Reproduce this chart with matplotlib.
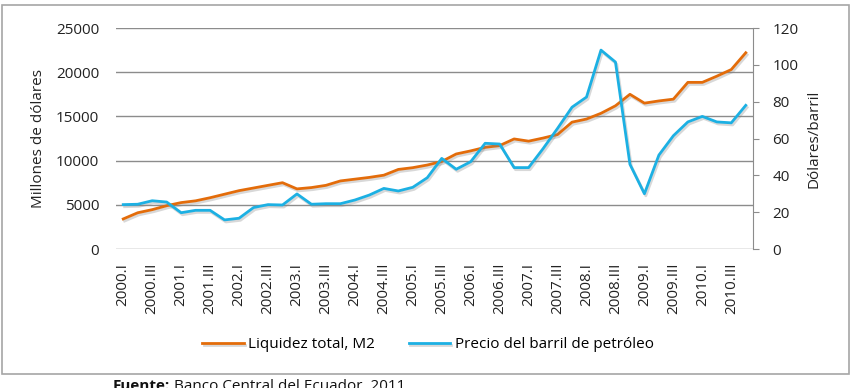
import matplotlib
matplotlib.use("Agg")
import matplotlib.pyplot as plt
import matplotlib.patheffects as pe
from matplotlib.patches import Rectangle
import numpy as np

plt.rcParams['font.family'] = ['Open Sans', 'DejaVu Sans']

# Trimestres 2000.I - 2010.IV
romanos = ['I', 'II', 'III', 'IV']
trimestres = [f'{a}.{r}' for a in range(2000, 2011) for r in romanos]

# Liquidez total M2 (millones de dólares)
m2 = [3400, 4100, 4450, 4900, 5250, 5450, 5800, 6200, 6600, 6900, 7200, 7500,
      6800, 6950, 7200, 7700, 7900, 8100, 8350, 9000, 9200, 9500, 9900, 10750,
      11100, 11500, 11700, 12450, 12200, 12550, 12950, 14350, 14700, 15350,
      16200, 17500, 16500, 16750, 16950, 18850, 18850, 19550, 20300, 22200]

# Precio del barril de petróleo (dólares/barril)
petroleo = [24.1, 24.3, 26.2, 25.5, 19.7, 21.0, 21.0, 15.8, 16.7, 22.5, 24.1, 23.9,
            29.9, 24.3, 24.6, 24.6, 26.6, 29.3, 32.9, 31.5, 33.5, 38.7, 49.2, 43.3,
            47.4, 57.4, 57.0, 44.2, 44.2, 54.5, 65.5, 77.0, 82.5, 108.0, 101.5, 46.0,
            30.0, 51.0, 61.5, 69.0, 72.0, 69.0, 68.5, 78.0]

naranja = '#E36C0A'
azul = '#1CB0E3'
gris = '#8C8C8C'
texto = '#222222'
sombra = [pe.SimpleLineShadow(offset=(1, -1.5), shadow_color='gray', alpha=0.3),
          pe.Normal()]

fig = plt.figure(figsize=(8.57, 3.88), dpi=100)
ax = fig.add_axes([116/857, 1-249/388, (753-116)/857, (249-28)/388])
ax2 = ax.twinx()

x = np.arange(len(trimestres))
l1, = ax.plot(x, m2, color=naranja, lw=2.0, path_effects=sombra,
              label='Liquidez total, M2')
l2, = ax2.plot(x, petroleo, color=azul, lw=2.0, path_effects=sombra,
               label='Precio del barril de petróleo')

ax.set_xlim(-0.5, len(x) - 0.5)
ax.set_ylim(0, 25000)
ax.set_yticks(range(0, 25001, 5000))
ax2.set_ylim(0, 120)
ax2.set_yticks(range(0, 121, 20))

ax.yaxis.grid(True, color=gris, lw=1)
ax.set_axisbelow(True)
for s in ['top', 'left', 'bottom', 'right']:
    ax.spines[s].set_visible(False)
for s in ['top', 'left', 'bottom']:
    ax2.spines[s].set_visible(False)
ax2.spines['right'].set_color(gris)

ax.set_xticks(x[::2])
ax.set_xticklabels(trimestres[::2], rotation=90, fontsize=11, color=texto)
ax.tick_params(axis='x', length=0, pad=10)
ax.tick_params(axis='y', length=0, pad=12, labelsize=11, labelcolor=texto)
ax2.tick_params(axis='y', length=4, color=gris, pad=10, labelsize=11,
                labelcolor=texto)

ax.set_ylabel('Millones de dólares', fontsize=11, color=texto)
ax.yaxis.set_label_coords((46-116)/637, 0.5)
ax2.set_ylabel('Dólares/barril', fontsize=11, color=texto)
ax2.yaxis.set_label_coords((807-116)/637, 0.5)

fig.legend(handles=[l1, l2], loc='center', bbox_to_anchor=(428/857, 1-345/388),
           ncol=2, frameon=False, fontsize=11, handlelength=2.7,
           columnspacing=2.2, handletextpad=0.3)

# Marco del gráfico
fig.patches.append(Rectangle((2/857, 1-374/388), (849-2)/857, (374-5)/388,
                             transform=fig.transFigure, fill=False,
                             edgecolor='#A6A6A6', lw=1.2))

# Fuente (cortada en el borde inferior, como en el original)
f1 = fig.text(113/857, 1-379/388, 'Fuente:', ha='left', va='top',
              fontsize=11, fontweight='bold', color='#111111')
ax.annotate(' Banco Central del Ecuador, 2011', xy=(1, 1), xycoords=f1,
            ha='left', va='top', fontsize=11, color='#111111',
            annotation_clip=False)

fig.savefig('out.png', dpi=100)
